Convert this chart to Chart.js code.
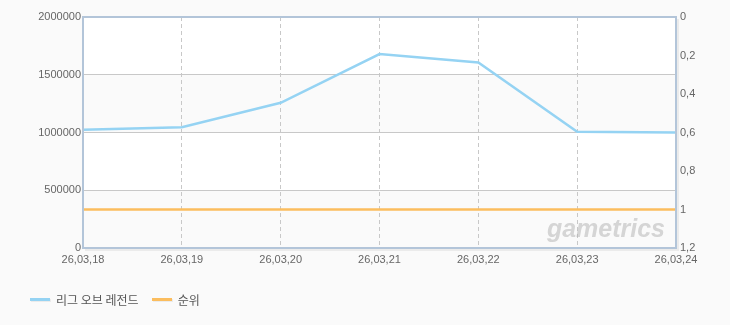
<!DOCTYPE html>
<html>
<head>
<meta charset="utf-8">
<script src="https://cdn.jsdelivr.net/npm/chart.js@4.4.1/dist/chart.umd.min.js"></script>
<style>
  html, body { margin: 0; padding: 0; background: #fafafa; }
  #wrap { position: relative; width: 730px; height: 325px; }
  #legend { position: absolute; left: 30px; top: 291px; font-family: "Noto Sans CJK KR", "Noto Sans", sans-serif; font-size: 12px; color: #555; display: flex; align-items: center; }
  .item { display: flex; align-items: center; margin-right: 13px; }
  .swatch { width: 20px; height: 3px; margin-right: 6px; box-shadow: 1px 1px 0 rgba(0,0,0,0.06); }
</style>
</head>
<body>
<div id="wrap">
  <canvas id="c" width="730" height="325"></canvas>
  <div id="legend"></div>
</div>
<script>
const categories = ["26,03,18", "26,03,19", "26,03,20", "26,03,21", "26,03,22", "26,03,23", "26,03,24"];
const seriesNames = ["리그 오브 레전드", "순위"];
const players = [1024000, 1046000, 1257000, 1679000, 1606000, 1006000, 1001000];
const rank = [1, 1, 1, 1, 1, 1, 1];
const leftTicks = [0, 500000, 1000000, 1500000, 2000000];
const rightTickLabels = ["0", "0,2", "0,4", "0,6", "0,8", "1", "1,2"];
const colors = ["#95d3f3", "#fbbd5e"];

const tickFont = { family: "'Liberation Sans', Arial, sans-serif", size: 11 };

const bandsPlugin = {
  id: 'bands',
  beforeDraw(chart) {
    const { ctx, chartArea: a, scales } = chart;
    const y = scales.y;
    ctx.save();
    ctx.fillStyle = '#ffffff';
    ctx.fillRect(a.left, a.top, a.right - a.left, a.bottom - a.top);
    ctx.fillStyle = '#fafafa';
    for (let i = 0; i < leftTicks.length - 1; i += 2) {
      const y0 = y.getPixelForValue(leftTicks[i]);
      const y1 = y.getPixelForValue(leftTicks[i + 1]);
      ctx.fillRect(a.left, y1, a.right - a.left, y0 - y1);
    }
    ctx.restore();
  },
  afterDatasetsDraw(chart) {
    const { ctx, chartArea: a } = chart;
    ctx.save();
    ctx.font = "italic bold 25px 'Liberation Sans', Arial, sans-serif";
    ctx.fillStyle = 'rgba(175,175,175,0.5)';
    ctx.textAlign = 'right';
    ctx.textBaseline = 'alphabetic';
    ctx.fillText('gametrics', a.right - 11, a.bottom - 11);
    ctx.restore();
  },
  afterDraw(chart) {
    const { ctx, chartArea: a } = chart;
    ctx.save();
    ctx.strokeStyle = 'rgba(0,0,0,0.06)';
    ctx.lineWidth = 2;
    ctx.beginPath();
    ctx.moveTo(a.left + 2, a.bottom + 2);
    ctx.lineTo(a.right + 2, a.bottom + 2);
    ctx.lineTo(a.right + 2, a.top + 2);
    ctx.stroke();
    ctx.strokeStyle = '#b3c5d9';
    ctx.lineWidth = 2;
    ctx.strokeRect(a.left, a.top, a.right - a.left, a.bottom - a.top);
    ctx.restore();
  }
};

new Chart(document.getElementById('c'), {
  type: 'line',
  data: {
    labels: categories,
    datasets: [
      { label: seriesNames[0], data: players, borderColor: colors[0], backgroundColor: colors[0], borderWidth: 2.5, pointRadius: 0, tension: 0, yAxisID: 'y' },
      { label: seriesNames[1], data: rank, borderColor: colors[1], backgroundColor: colors[1], borderWidth: 2.5, pointRadius: 0, tension: 0, yAxisID: 'y1' }
    ]
  },
  options: {
    responsive: false,
    animation: false,
    layout: { padding: { top: 17, left: 0, right: 0, bottom: 0 } },
    plugins: { legend: { display: false }, tooltip: { enabled: false } },
    scales: {
      x: {
        offset: false,
        grid: { color: '#c8c8c8', lineWidth: 1, drawTicks: false },
        border: { display: false, dash: [4, 3] },
        ticks: { color: '#666', font: tickFont, padding: 5, maxRotation: 0, autoSkip: false },
        afterFit(s) { s.height = 77; }
      },
      y: {
        position: 'left',
        min: 0, max: 2000000,
        afterBuildTicks(s) { s.ticks = leftTicks.map(v => ({ value: v })); },
        grid: { color: '#c8c8c8', lineWidth: 1, drawTicks: false },
        border: { display: false },
        ticks: { color: '#666', font: tickFont, padding: 2, callback: v => String(v) },
        afterFit(s) { s.width = 83; }
      },
      y1: {
        position: 'right',
        reverse: true,
        min: 0, max: 1.2,
        afterBuildTicks(s) { s.ticks = rightTickLabels.map((t, i) => ({ value: i * 0.2 })); },
        grid: { display: false, drawTicks: false },
        border: { display: false },
        ticks: { color: '#666', font: tickFont, padding: 4, callback: (v, i) => rightTickLabels[i] },
        afterFit(s) { s.width = 54; }
      }
    }
  },
  plugins: [bandsPlugin]
});

const legend = document.getElementById('legend');
seriesNames.forEach((n, i) => {
  const it = document.createElement('div');
  it.className = 'item';
  const sw = document.createElement('span');
  sw.className = 'swatch';
  sw.style.background = colors[i];
  const tx = document.createElement('span');
  tx.textContent = n;
  it.appendChild(sw); it.appendChild(tx);
  legend.appendChild(it);
});
</script>
</body>
</html>
